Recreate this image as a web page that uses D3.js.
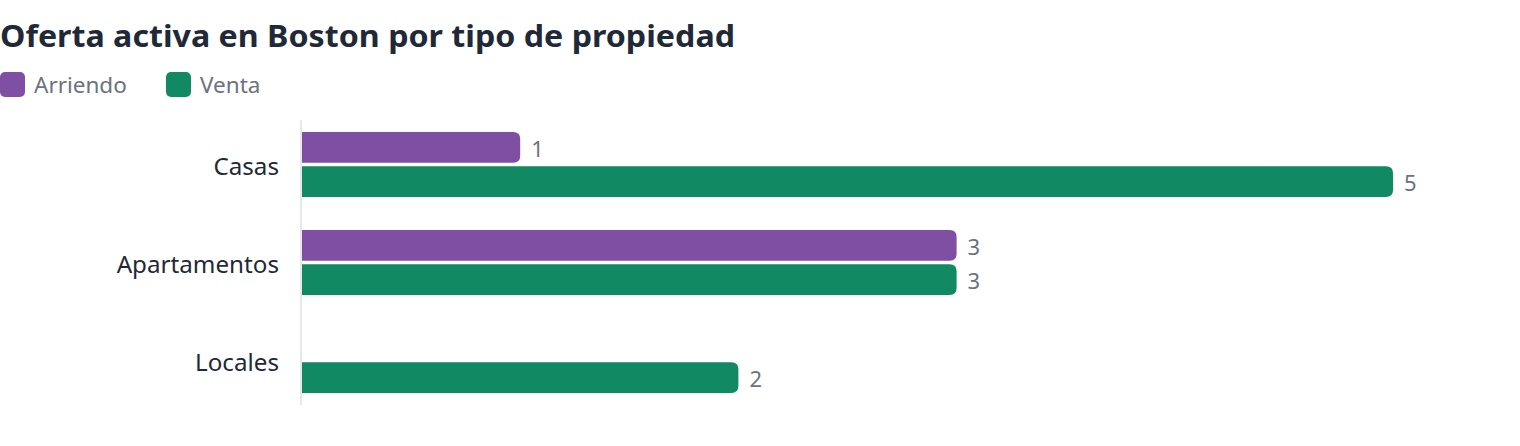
<!DOCTYPE html>
<html><head><meta charset="utf-8">
<script src="https://cdn.jsdelivr.net/npm/d3@7"></script>
<style>
html,body{margin:0;padding:0;background:#fff;}
svg{display:block;font-family:"Noto Sans","Open Sans",sans-serif;}
</style></head>
<body><svg id="chart" width="1520" height="446"></svg>
<script>
const title = "Oferta activa en Boston por tipo de propiedad";
const categories = ["Casas", "Apartamentos", "Locales"];
const seriesNames = ["Arriendo", "Venta"];
const arriendo = [1, 3, 0];
const venta = [5, 3, 2];
const colors = ["#7f4fa3", "#118a63"];

const svg = d3.select("#chart");
const left = 302, right = 1393;

const x = d3.scaleLinear().domain([0, 5]).range([left, right]);
const y = d3.scaleBand().domain(categories).range([120, 405]).paddingInner(0.337).paddingOuter(0.122);
const yInner = d3.scaleBand().domain(seriesNames).range([0, y.bandwidth()]).paddingInner(0.1);

svg.append("text").attr("x", 0).attr("y", 47)
  .attr("font-size", 30).attr("font-weight", 700).attr("fill", "#1f2937")
  .attr("textLength", 735).attr("lengthAdjust", "spacingAndGlyphs")
  .text(title);

// legend
const legX = [0, 166];
seriesNames.forEach((s, i) => {
  const g = svg.append("g").attr("transform", `translate(${legX[i]},72)`);
  g.append("rect").attr("width", 25).attr("height", 25).attr("rx", 5).attr("fill", colors[i]);
  g.append("text").attr("x", 34).attr("y", 21).attr("font-size", 22.5).attr("fill", "#6b7280").text(s);
});

// axis line
svg.append("line").attr("x1", 301).attr("x2", 301).attr("y1", 120).attr("y2", 405)
  .attr("stroke", "#e5e7eb").attr("stroke-width", 2);

// category labels
const yAxis = d3.axisLeft(y).tickSize(0).tickPadding(0);
const ga = svg.append("g").attr("transform", "translate(279,0)").call(yAxis);
ga.select(".domain").remove();
ga.selectAll("text").attr("font-size", 24.2).attr("fill", "#1f2937")
  .attr("font-family", '"Noto Sans","Open Sans",sans-serif').attr("dy", "0.43em");

function roundedRight(x0, y0, w, h, r) {
  r = Math.min(r, w, h / 2);
  return `M${x0},${y0}H${x0 + w - r}Q${x0 + w},${y0} ${x0 + w},${y0 + r}V${y0 + h - r}Q${x0 + w},${y0 + h} ${x0 + w - r},${y0 + h}H${x0}Z`;
}

const data = [arriendo, venta];
data.forEach((vals, si) => {
  vals.forEach((v, ci) => {
    if (!v) return;
    const y0 = y(categories[ci]) + yInner(seriesNames[si]);
    const h = yInner.bandwidth();
    const w = x(v) - x(0);
    svg.append("path").attr("d", roundedRight(x(0), y0, w, h, 7)).attr("fill", colors[si]);
    svg.append("text").attr("x", x(v) + 11).attr("y", y0 + h / 2).attr("dy", "0.42em")
      .attr("font-size", 22).attr("fill", "#6b7280").text(v);
  });
});
</script></body></html>
